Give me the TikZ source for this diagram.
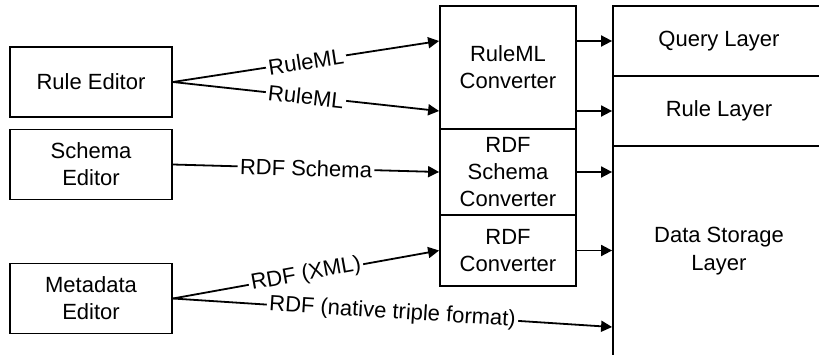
\documentclass[tikz,border=0pt]{standalone}
\usepackage{fontspec}
\setmainfont{Liberation Sans}
\usetikzlibrary{arrows.meta}
\begin{document}
\begin{tikzpicture}[x=0.5pt,y=-0.5pt,
  every node/.style={font=\fontsize{11}{13.6}\selectfont},
  box/.style={draw,line width=0.9pt,align=center,inner sep=0pt},
  editor/.style={box,minimum width=81pt,minimum height=35pt},
  conv/.style={box,minimum width=68pt},
  layer/.style={box,minimum width=106pt},
  link/.style={line width=0.9pt,-{Triangle[length=5.5pt,width=5.5pt]}},
  lbl/.style={sloped,midway,fill=white,inner sep=1.2pt}]
\useasboundingbox (0,0) rectangle (819,354);
\clip (0,0) rectangle (819,354);

% editors
\node[editor] (re) at (91,82)    {Rule Editor};
\node[editor] (se) at (91,164.5) {Schema\\Editor};
\node[editor] (me) at (91,298.5) {Metadata\\Editor};

% converters
\node[conv,minimum height=61.5pt] (rc) at (508,67.5)  {RuleML\\Converter};
\node[conv,minimum height=43pt]   (sc) at (508,172)   {RDF\\Schema\\Converter};
\node[conv,minimum height=35.5pt] (dc) at (508,250.5) {RDF\\Converter};

% layers (right and bottom edges run past the page)
\node[layer,minimum height=35pt]  (ql) at (719,41)  {Query Layer};
\node[layer,minimum height=35pt]  (rl) at (719,111) {Rule Layer};
\node[layer,minimum height=105pt] (ds) at (719,251) {Data Storage\\Layer};

% editor -> converter links
\draw[link] (re.east) -- node[lbl] {RuleML} (rc.west |- ql.west);
\draw[link] (re.east) -- node[lbl] {RuleML} (rc.west |- rl.west);
\draw[link] (se.east) -- node[lbl] {RDF Schema} (sc.west);
\draw[link] (me.east) -- node[lbl] {RDF (XML)} (dc.west);
\draw[link] (me.east) -- node[lbl] {RDF (native triple format)} ([yshift=-38pt]ds.west);

% converter -> layer links
\draw[link] (rc.east |- ql.west) -- (ql.west);
\draw[link] (rc.east |- rl.west) -- (rl.west);
\draw[link] (sc.east) -- (ds.west |- sc.east);
\draw[link] (dc.east) -- (ds.west |- dc.east);
\end{tikzpicture}
\end{document}
